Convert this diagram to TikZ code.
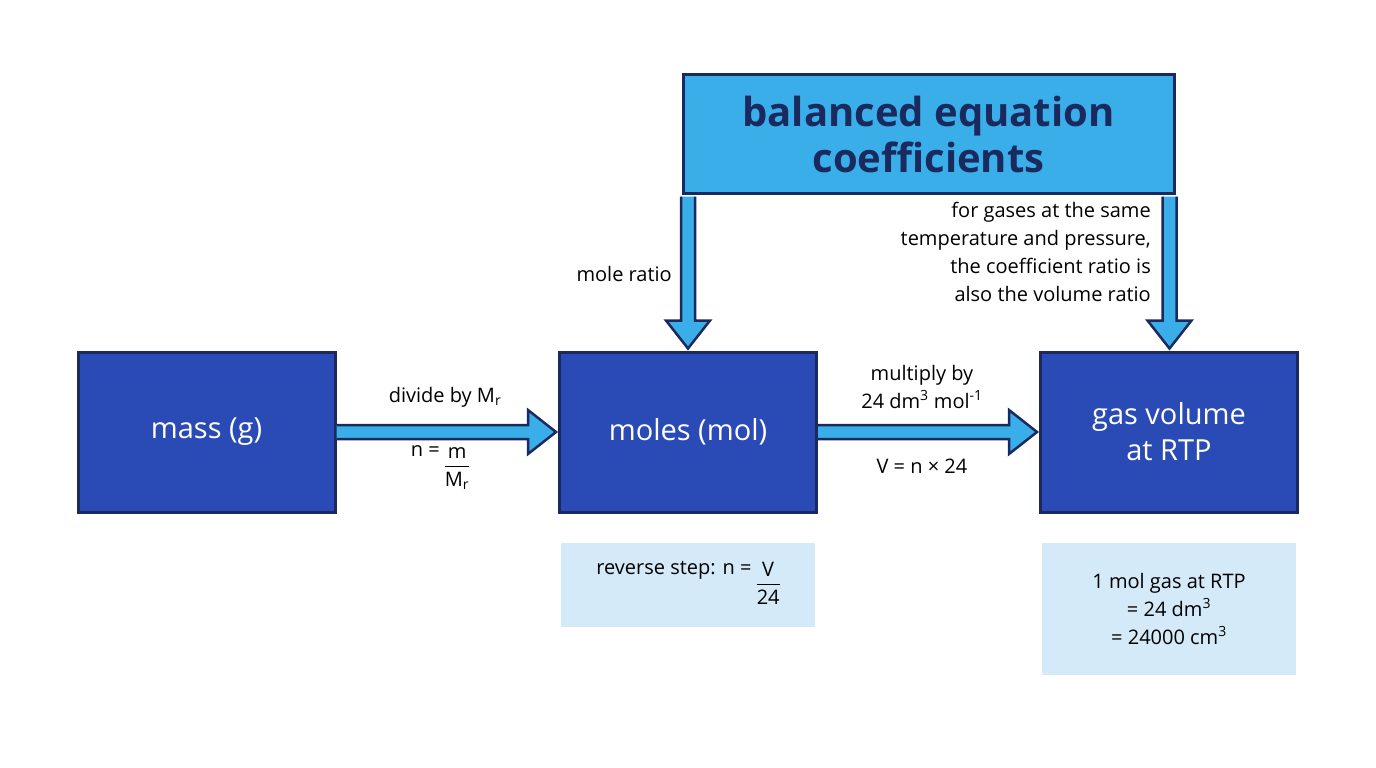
\documentclass[tikz,border=0pt]{standalone}
\usepackage{fontspec}
\setmainfont{Open Sans}
\usetikzlibrary{calc}
\definecolor{navy}{HTML}{1A2A5E}
\definecolor{boxblue}{HTML}{2A4BB5}
\definecolor{sky}{HTML}{3AAEE8}
\definecolor{pale}{HTML}{D4EAF8}
\newcommand{\frc}[2]{\renewcommand{\arraystretch}{1.05}\begin{tabular}{@{}c@{}}#1\\[-2pt]\hline\rule{0pt}{20pt}#2\end{tabular}}
\begin{document}
\begin{tikzpicture}[x=1pt,y=-1pt,
  box/.style={draw=navy,line width=3pt,fill=boxblue,text=white,minimum width=257,minimum height=160,align=center,font=\fontsize{29}{36}\selectfont},
  note/.style={fill=pale,minimum width=254,align=center,font=\fontsize{20}{28}\selectfont},
  lbl/.style={font=\fontsize{20}{28}\selectfont,inner sep=0},
  arr/.style={fill=sky,draw=navy,line width=2.5pt,line join=miter}]
\useasboundingbox (0,0) rectangle (1376,768);
\node[box] (mass) at (206.5,432) {mass (g)};
\node[box] (mol) at (688,432) {moles (mol)};
\node[box] (gas) at (1169,432) {gas volume\\at RTP};
\node[draw=navy,line width=3pt,fill=sky,text=navy,minimum width=491,minimum height=118,align=center,font=\bfseries\fontsize{40}{46}\selectfont] (eq) at (928.5,134) {balanced equation\\coefficients};
\node[note,minimum height=84] (rev) at (688,585) {reverse step: n = \raisebox{-0.45\height}{\frc{V}{24}}};
\node[note,minimum height=132] (rtp) at (1169,609) {1 mol gas at RTP\\= 24 dm\textsuperscript{3}\\= 24000 cm\textsuperscript{3}};
% horizontal arrows
\draw[arr] ($(mass.east)+(0,-7)$) -- ($(mol.west)+(-30,-7)$) -- ($(mol.west)+(-30,-22)$) -- ($(mol.west)+(-2,0)$) -- ($(mol.west)+(-30,22)$) -- ($(mol.west)+(-30,7)$) -- ($(mass.east)+(0,7)$);
\draw[arr] ($(mol.east)+(0,-7)$) -- ($(gas.west)+(-30,-7)$) -- ($(gas.west)+(-30,-22)$) -- ($(gas.west)+(-2,0)$) -- ($(gas.west)+(-30,22)$) -- ($(gas.west)+(-30,7)$) -- ($(mol.east)+(0,7)$);
% vertical arrows
\coordinate (a1) at (eq.south west -| mol.north);
\coordinate (b1) at (mol.north);
\coordinate (a2) at ($(eq.south east)+(-6,0)$);
\coordinate (b2) at (a2 |- gas.north);
\foreach \a/\b in {a1/b1,a2/b2}{
\draw[arr] ($(\a)+(-7,2)$) -- ($(\b)+(-7,-30)$) -- ($(\b)+(-22,-30)$) -- ($(\b)+(0,-2)$) -- ($(\b)+(22,-30)$) -- ($(\b)+(7,-30)$) -- ($(\a)+(7,2)$);}
% labels
\node[lbl,anchor=east] (mr) at (672,274) {mole ratio};
\node[lbl,align=right,anchor=north east,font=\fontsize{20}{28}\selectfont] (gtxt) at (1151,202) {for gases at the same\\temperature and pressure,\\the coefficient ratio is\\also the volume ratio};
\node[lbl] (dv) at (445,397) {divide by M\textsubscript{r}};
\node[lbl] (nf) at (440,467) {n = \raisebox{-0.45\height}{\frc{m}{M\textsubscript{r}}}};
\node[lbl,align=center] (mu) at (922,387) {multiply by\\24 dm\textsuperscript{3} mol\textsuperscript{-1}};
\node[lbl] (vn) at (922,466) {V = n × 24};
\end{tikzpicture}
\end{document}
